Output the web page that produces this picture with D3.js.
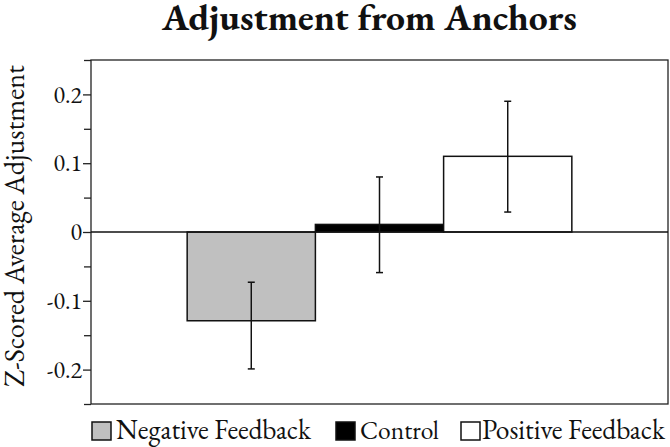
<!DOCTYPE html>
<html>
<head>
<meta charset="utf-8">
<script src="https://cdn.jsdelivr.net/npm/d3@7"></script>
<style>
  html, body { margin: 0; padding: 0; background: #fff; }
  svg { display: block; }
  text { font-family: "EB Garamond", "Liberation Serif", serif; fill: #111; font-variant-numeric: lining-nums; }
</style>
</head>
<body>
<svg id="chart" width="670" height="447"></svg>
<script>
// ---- data ----
const categories = ["Negative Feedback", "Control", "Positive Feedback"];
const means = [-0.129, 0.011, 0.11];
const errLow = [-0.199, -0.059, 0.029];
const errHigh = [-0.073, 0.080, 0.190];
const fills = ["#c0c0c0", "#000000", "#ffffff"];
const majorTicks = [-0.2, -0.1, 0, 0.1, 0.2];
const majorTickLabels = ["-0.2", "-0.1", "0", "0.1", "0.2"];
const minorTicks = [-0.25, -0.15, -0.05, 0.05, 0.15, 0.25];
const titleText = "Adjustment from Anchors";
const yLabelText = "Z-Scored Average Adjustment";

// ---- layout ----
const svg = d3.select("#chart");
const pLeft = 91, pRight = 668, pTop = 60, pBottom = 404;
const FONT = "'EB Garamond', 'Liberation Serif', serif";

// fit font size so the text spans the width measured on the reference
function fit(sel, target, base) {
  sel.style("font-size", base + "px");
  const w = sel.node().getComputedTextLength();
  sel.style("font-size", (base * target / w).toFixed(2) + "px");
  return sel;
}

const y = d3.scaleLinear().domain([-0.25, 0.25]).range([pBottom, pTop]);
const x = d3.scaleBand().domain(categories).range([pLeft, pRight])
  .paddingInner(0).paddingOuter(0.75);

// frame
svg.append("rect")
  .attr("x", pLeft).attr("y", pTop)
  .attr("width", pRight - pLeft).attr("height", pBottom - pTop)
  .attr("fill", "none").attr("stroke", "#222").attr("stroke-width", 1.3);

// minor ticks
const minorAxis = d3.axisLeft(y).tickValues(minorTicks).tickSize(7).tickFormat("");
const gMinor = svg.append("g").attr("transform", `translate(${pLeft},0)`).call(minorAxis);
gMinor.select(".domain").remove();
gMinor.selectAll("line").attr("stroke", "#222").attr("stroke-width", 1.3);

// major ticks
const majorAxis = d3.axisLeft(y).tickValues(majorTicks).tickSize(8).tickPadding(1)
  .tickFormat((d, i) => majorTickLabels[i]);
const gMajor = svg.append("g").attr("transform", `translate(${pLeft},0)`).call(majorAxis);
gMajor.attr("font-family", null);
gMajor.select(".domain").remove();
gMajor.selectAll("line").attr("stroke", "#222").attr("stroke-width", 1.3);
gMajor.selectAll("text")
  .style("font-family", FONT)
  .style("font-size", "24px")
  .attr("fill", "#111")
  .attr("dy", "0.32em");

// bars
svg.append("g").selectAll("rect")
  .data(categories)
  .join("rect")
  .attr("x", d => x(d))
  .attr("width", x.bandwidth())
  .attr("y", (d, i) => y(Math.max(0, means[i])))
  .attr("height", (d, i) => Math.abs(y(means[i]) - y(0)))
  .attr("fill", (d, i) => fills[i])
  .attr("stroke", "#111")
  .attr("stroke-width", 1.5);

// zero line
svg.append("line")
  .attr("x1", pLeft).attr("x2", pRight)
  .attr("y1", y(0)).attr("y2", y(0))
  .attr("stroke", "#111").attr("stroke-width", 1.3);

// error bars
const eb = svg.append("g").selectAll("g")
  .data(categories)
  .join("g");
eb.append("line")
  .attr("x1", d => x(d) + x.bandwidth() / 2)
  .attr("x2", d => x(d) + x.bandwidth() / 2)
  .attr("y1", (d, i) => y(errLow[i]))
  .attr("y2", (d, i) => y(errHigh[i]))
  .attr("stroke", "#111").attr("stroke-width", 1.5);
[errLow, errHigh].forEach(arr => {
  eb.append("line")
    .attr("x1", d => x(d) + x.bandwidth() / 2 - 3.5)
    .attr("x2", d => x(d) + x.bandwidth() / 2 + 3.5)
    .attr("y1", (d, i) => y(arr[i]))
    .attr("y2", (d, i) => y(arr[i]))
    .attr("stroke", "#111").attr("stroke-width", 1.5);
});

// title
const title = svg.append("text")
  .attr("x", 162).attr("y", 30)
  .style("font-family", FONT).style("font-weight", "bold")
  .attr("fill", "#000")
  .text(titleText);
fit(title, 415, 28);

// y label
const yl = svg.append("text")
  .attr("transform", "translate(24,387) rotate(-90)")
  .style("font-family", FONT)
  .text(yLabelText);
fit(yl, 322, 21);

// legend
const legendSwatchX = [92, 336, 461];
const legendTextX = [116, 360, 482];
const legendTextW = [195, 79, 183];
const lg = svg.append("g").selectAll("g").data(categories).join("g");
lg.append("rect")
  .attr("x", (d, i) => legendSwatchX[i]).attr("y", 422)
  .attr("width", 19).attr("height", 18)
  .attr("fill", (d, i) => fills[i])
  .attr("stroke", "#111").attr("stroke-width", 1.5);
lg.append("text")
  .attr("x", (d, i) => legendTextX[i]).attr("y", 438.5)
  .style("font-family", FONT)
  .text(d => d)
  .each(function (d, i) { fit(d3.select(this), legendTextW[i], 21); });
</script>
</body>
</html>
